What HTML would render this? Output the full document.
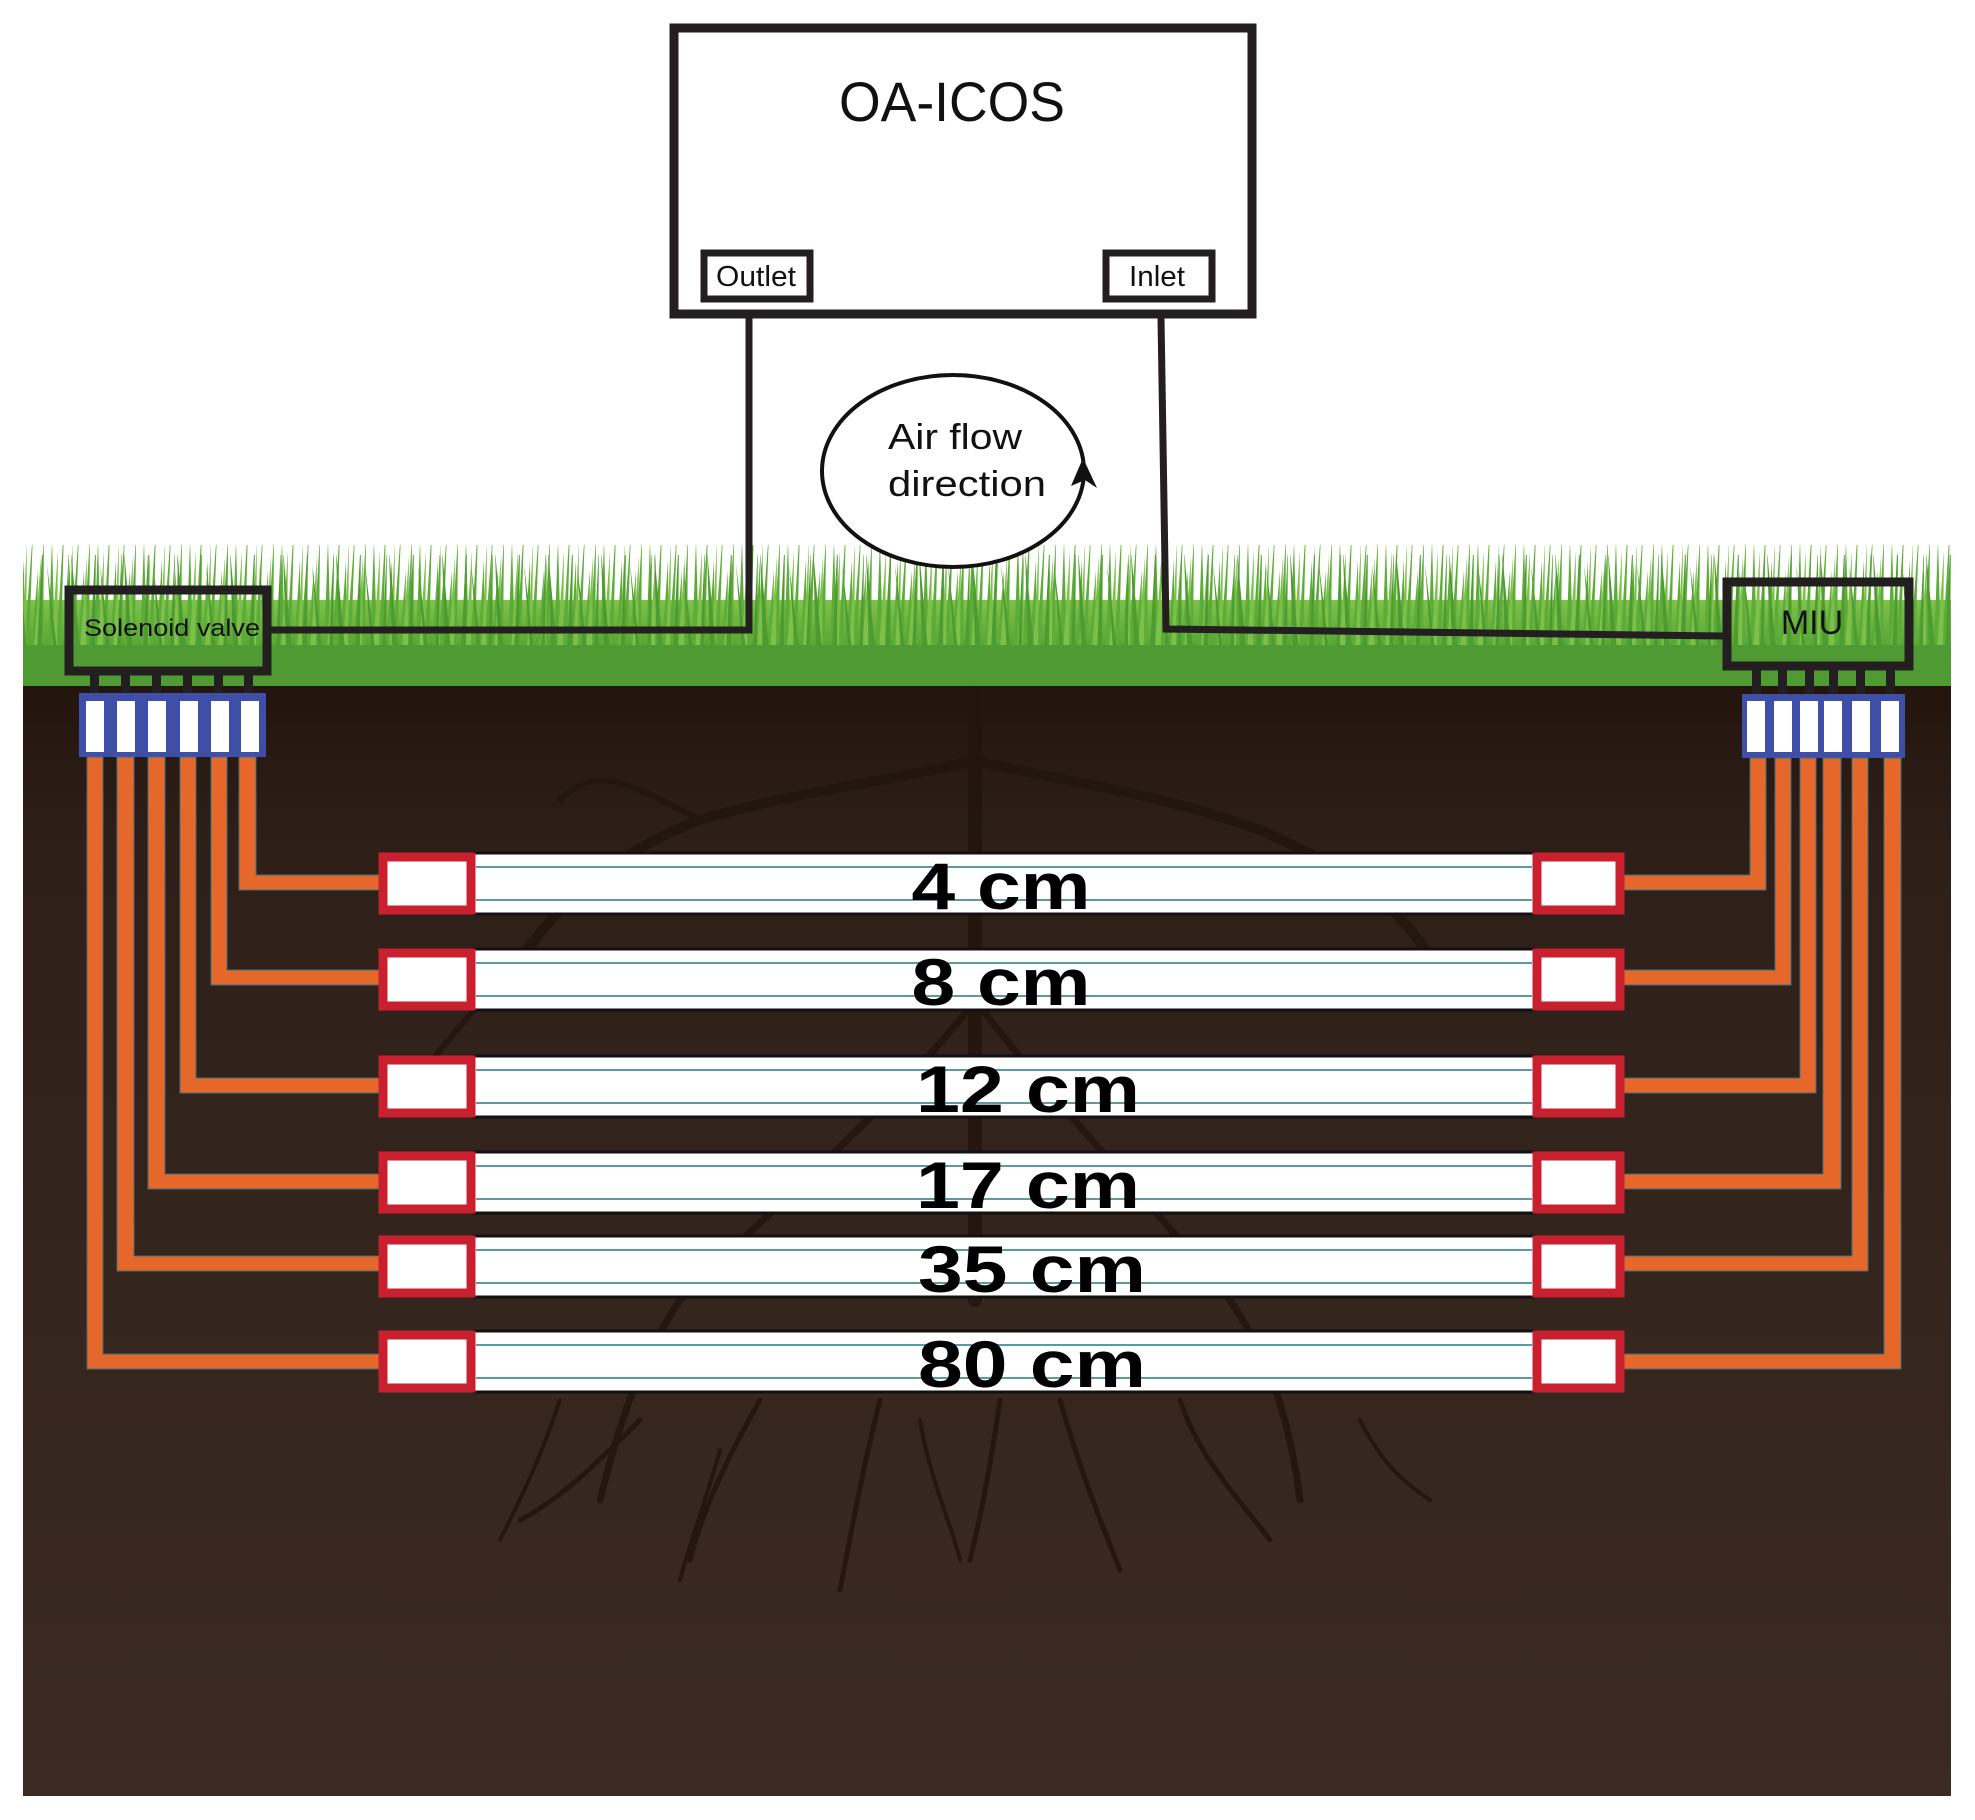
<!DOCTYPE html>
<html><head><meta charset="utf-8"><style>
html,body{margin:0;padding:0;background:#fff}
svg{display:block}
</style></head><body>
<svg width="1975" height="1820" viewBox="0 0 1975 1820" xmlns="http://www.w3.org/2000/svg">
<defs>
<linearGradient id="soil" x1="0" y1="0" x2="0" y2="1">
<stop offset="0" stop-color="#24160f"/><stop offset="0.15" stop-color="#2e2019"/><stop offset="1" stop-color="#3b2b22"/>
</linearGradient>
<linearGradient id="grass" x1="0" y1="0" x2="0" y2="1">
<stop offset="0" stop-color="#7fc24a"/><stop offset="0.5" stop-color="#5aa636"/><stop offset="1" stop-color="#4a9630"/>
</linearGradient>
<pattern id="blades" x="0" y="0" width="46" height="130" patternUnits="userSpaceOnUse">
<path d="M2 130 L6 20 L9 130 Z M10 130 L18 4 L15 130 Z M18 130 L24 40 L24 130 Z M24 130 L33 10 L29 130 Z M31 130 L38 50 L37 130 Z M37 130 L44 16 L43 130 Z" fill="#5dab38"/>
<path d="M5 130 L12 30 L11 130 Z M21 130 L27 22 L26 130 Z M34 130 L41 36 L40 130 Z" fill="#7cc04a"/>
</pattern>
<pattern id="blades2" x="17" y="0" width="53" height="130" patternUnits="userSpaceOnUse">
<path d="M4 130 L1 30 L10 130 Z M20 130 L26 14 L25 130 Z M36 130 L30 44 L40 130 Z M47 130 L52 24 L51 130 Z" fill="#4e9c30"/>
</pattern>
</defs>
<!-- soil -->
<rect x="23" y="686" width="1928" height="1110" fill="url(#soil)"/>
<!-- roots -->
<g stroke="#22150e" fill="none" stroke-linecap="round" opacity="0.85">
<path d="M975 690 L975 1300" stroke-width="14"/>
<path d="M975 760 C900 780 800 790 700 820 C620 850 560 900 520 960" stroke-width="10"/>
<path d="M975 760 C1050 780 1150 790 1260 830 C1330 860 1400 900 1430 960" stroke-width="10"/>
<path d="M700 820 C640 790 600 760 560 800 M520 960 C480 1000 440 1050 400 1100" stroke-width="6"/>
<path d="M975 1000 C900 1100 780 1200 680 1300 C640 1360 620 1420 600 1500" stroke-width="7"/>
<path d="M975 1000 C1050 1100 1150 1200 1230 1300 C1270 1360 1290 1420 1300 1500" stroke-width="7"/>
<path d="M760 1400 C720 1470 700 1520 690 1560 M880 1400 C860 1480 850 1540 840 1590 M1060 1400 C1080 1470 1100 1520 1120 1570 M1180 1400 C1200 1460 1240 1500 1270 1540 M640 1420 C600 1460 560 1500 520 1520 M1000 1400 C990 1470 980 1520 970 1560" stroke-width="5"/>
<path d="M560 1400 C540 1460 520 1500 500 1540 M1360 1420 C1380 1460 1400 1480 1430 1500 M720 1450 C700 1520 690 1540 680 1580 M920 1420 C930 1480 950 1520 960 1560" stroke-width="4"/>
</g>
<rect x="23" y="686" width="1928" height="40" fill="#24150e" opacity="0.6"/>
<!-- grass -->
<rect x="23" y="600" width="1928" height="86" fill="url(#grass)"/>
<rect x="23" y="545" width="1928" height="130" fill="url(#blades)"/>
<rect x="23" y="555" width="1928" height="130" fill="url(#blades2)"/>
<rect x="23" y="645" width="1928" height="41" fill="#4f9a32"/>

<!-- OA-ICOS box -->
<rect x="674" y="28" width="578" height="286" fill="#fff" stroke="#231f20" stroke-width="9"/>
<text x="952" y="121" font-family="Liberation Sans, sans-serif" font-size="56" text-anchor="middle" textLength="226" lengthAdjust="spacingAndGlyphs" fill="#111">OA-ICOS</text>
<rect x="704" y="253" width="106" height="46" fill="#fff" stroke="#231f20" stroke-width="7"/>
<text x="756" y="286" font-family="Liberation Sans, sans-serif" font-size="29" text-anchor="middle" textLength="80" lengthAdjust="spacingAndGlyphs" fill="#111">Outlet</text>
<rect x="1106" y="253" width="106" height="46" fill="#fff" stroke="#231f20" stroke-width="7"/>
<text x="1157" y="286" font-family="Liberation Sans, sans-serif" font-size="29" text-anchor="middle" textLength="56" lengthAdjust="spacingAndGlyphs" fill="#111">Inlet</text>

<!-- tubing lines -->
<polyline points="749,318 749,630 271,630" fill="none" stroke="#231f20" stroke-width="7"/>
<polyline points="1161,318 1166,629 1723,636" fill="none" stroke="#231f20" stroke-width="7"/>

<!-- air flow -->
<ellipse cx="953" cy="471" rx="131" ry="96" fill="#fff" stroke="#111" stroke-width="4"/>
<text x="955" y="449" font-family="Liberation Sans, sans-serif" font-size="36" text-anchor="middle" textLength="134" lengthAdjust="spacingAndGlyphs" fill="#111">Air flow</text>
<text x="967" y="496" font-family="Liberation Sans, sans-serif" font-size="36" text-anchor="middle" textLength="158" lengthAdjust="spacingAndGlyphs" fill="#111">direction</text>
<path d="M1083 458 L1097 488 L1085 480 L1071 486 Z" fill="#111"/>

<!-- solenoid valve -->
<rect x="69" y="590" width="198" height="81" fill="none" stroke="#231f20" stroke-width="9"/>
<text x="172" y="636" font-family="Liberation Sans, sans-serif" font-size="24" text-anchor="middle" textLength="176" lengthAdjust="spacingAndGlyphs" fill="#111">Solenoid valve</text>
<g fill="#231f20">
<rect x="90" y="674" width="9" height="22"/><rect x="121" y="674" width="9" height="22"/><rect x="152" y="674" width="9" height="22"/><rect x="183" y="674" width="9" height="22"/><rect x="214" y="674" width="9" height="22"/><rect x="244" y="674" width="9" height="22"/>
</g>
<rect x="79" y="693" width="187" height="64" fill="#3f4fa8"/>
<g fill="#fff">
<rect x="86" y="701" width="18" height="51"/><rect x="117" y="701" width="18" height="51"/><rect x="148" y="701" width="18" height="51"/><rect x="180" y="701" width="18" height="51"/><rect x="211" y="701" width="18" height="51"/><rect x="241" y="701" width="18" height="51"/>
</g>

<!-- MIU -->
<rect x="1727" y="582" width="182" height="84" fill="none" stroke="#231f20" stroke-width="9"/>
<text x="1812" y="634" font-family="Liberation Sans, sans-serif" font-size="34" text-anchor="middle" fill="#111">MIU</text>
<g fill="#231f20">
<rect x="1752" y="670" width="9" height="26"/><rect x="1778" y="670" width="9" height="26"/><rect x="1805" y="670" width="9" height="26"/><rect x="1829" y="670" width="9" height="26"/><rect x="1856" y="670" width="9" height="26"/><rect x="1886" y="670" width="9" height="26"/>
</g>
<rect x="1742" y="694" width="163" height="64" fill="#3f4fa8"/>
<g fill="#fff">
<rect x="1747" y="701" width="18" height="51"/><rect x="1774" y="701" width="18" height="51"/><rect x="1800" y="701" width="18" height="51"/><rect x="1824" y="701" width="18" height="51"/><rect x="1852" y="701" width="18" height="51"/><rect x="1881" y="701" width="18" height="51"/>
</g>

<!-- orange pipes left -->
<g fill="#e5682a" stroke="#3a6f80" stroke-width="1">
<path d="M239 757 h17 v118 h124 v15 h-141 Z"/>
<path d="M211 757 h16 v213 h153 v15 h-169 Z"/>
<path d="M180 757 h16 v321 h184 v15 h-200 Z"/>
<path d="M148 757 h17 v417 h215 v15 h-232 Z"/>
<path d="M117 757 h17 v499 h246 v15 h-263 Z"/>
<path d="M87 757 h16 v597 h277 v15 h-293 Z"/>
</g>
<!-- orange pipes right -->
<g fill="#e5682a" stroke="#3a6f80" stroke-width="1">
<path d="M1766 758 h-16 v117 h-126 v15 h142 Z"/>
<path d="M1791 758 h-16 v212 h-151 v15 h167 Z"/>
<path d="M1816 758 h-16 v320 h-176 v15 h192 Z"/>
<path d="M1841 758 h-18 v416 h-199 v15 h217 Z"/>
<path d="M1868 758 h-16 v498 h-228 v15 h244 Z"/>
<path d="M1901 758 h-17 v596 h-260 v15 h277 Z"/>
</g>

<!-- bars -->
<g font-family="Liberation Sans, sans-serif" font-weight="bold" font-size="66" fill="#000" text-anchor="middle">
<g transform="translate(0,883)">
<rect x="474" y="-30" width="1060" height="61" fill="#fff" stroke="#111" stroke-width="3"/>
<line x1="476" y1="-16" x2="1532" y2="-16" stroke="#5a9aa0" stroke-width="2"/><line x1="476" y1="17" x2="1532" y2="17" stroke="#5a9aa0" stroke-width="2"/>
<text x="1001" y="26" textLength="179" lengthAdjust="spacingAndGlyphs">4 cm</text>
</g>
<g transform="translate(0,979)">
<rect x="474" y="-30" width="1060" height="61" fill="#fff" stroke="#111" stroke-width="3"/>
<line x1="476" y1="-16" x2="1532" y2="-16" stroke="#5a9aa0" stroke-width="2"/><line x1="476" y1="17" x2="1532" y2="17" stroke="#5a9aa0" stroke-width="2"/>
<text x="1001" y="26" textLength="179" lengthAdjust="spacingAndGlyphs">8 cm</text>
</g>
<g transform="translate(0,1086)">
<rect x="474" y="-30" width="1060" height="61" fill="#fff" stroke="#111" stroke-width="3"/>
<line x1="476" y1="-16" x2="1532" y2="-16" stroke="#5a9aa0" stroke-width="2"/><line x1="476" y1="17" x2="1532" y2="17" stroke="#5a9aa0" stroke-width="2"/>
<text x="1028" y="26" textLength="224" lengthAdjust="spacingAndGlyphs">12 cm</text>
</g>
<g transform="translate(0,1182)">
<rect x="474" y="-30" width="1060" height="61" fill="#fff" stroke="#111" stroke-width="3"/>
<line x1="476" y1="-16" x2="1532" y2="-16" stroke="#5a9aa0" stroke-width="2"/><line x1="476" y1="17" x2="1532" y2="17" stroke="#5a9aa0" stroke-width="2"/>
<text x="1028" y="26" textLength="224" lengthAdjust="spacingAndGlyphs">17 cm</text>
</g>
<g transform="translate(0,1266)">
<rect x="474" y="-30" width="1060" height="61" fill="#fff" stroke="#111" stroke-width="3"/>
<line x1="476" y1="-16" x2="1532" y2="-16" stroke="#5a9aa0" stroke-width="2"/><line x1="476" y1="17" x2="1532" y2="17" stroke="#5a9aa0" stroke-width="2"/>
<text x="1032" y="26" textLength="228" lengthAdjust="spacingAndGlyphs">35 cm</text>
</g>
<g transform="translate(0,1361)">
<rect x="474" y="-30" width="1060" height="61" fill="#fff" stroke="#111" stroke-width="3"/>
<line x1="476" y1="-16" x2="1532" y2="-16" stroke="#5a9aa0" stroke-width="2"/><line x1="476" y1="17" x2="1532" y2="17" stroke="#5a9aa0" stroke-width="2"/>
<text x="1032" y="26" textLength="228" lengthAdjust="spacingAndGlyphs">80 cm</text>
</g>
</g>

<!-- red boxes -->
<g fill="#fff" stroke="#c8202e" stroke-width="9">
<rect x="383" y="857" width="88" height="53"/><rect x="1537" y="857" width="83" height="53"/>
<rect x="383" y="953" width="88" height="53"/><rect x="1537" y="953" width="83" height="53"/>
<rect x="383" y="1060" width="88" height="53"/><rect x="1537" y="1060" width="83" height="53"/>
<rect x="383" y="1156" width="88" height="53"/><rect x="1537" y="1156" width="83" height="53"/>
<rect x="383" y="1240" width="88" height="53"/><rect x="1537" y="1240" width="83" height="53"/>
<rect x="383" y="1335" width="88" height="53"/><rect x="1537" y="1335" width="83" height="53"/>
</g>
</svg>
</body></html>
